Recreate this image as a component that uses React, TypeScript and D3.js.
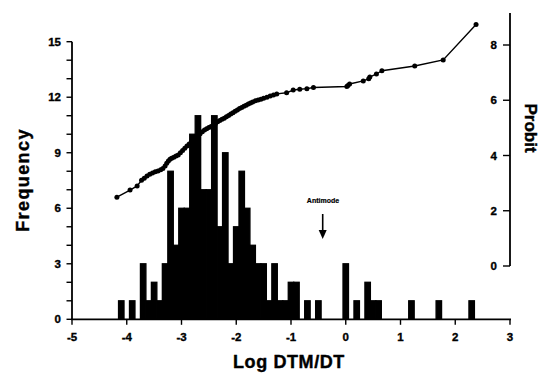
import React from "react";
import * as d3 from "d3";

const binCenters = [-4.1, -3.9, -3.7, -3.6, -3.5, -3.4, -3.3, -3.2, -3.1, -3.0, -2.9, -2.8, -2.7, -2.6, -2.5, -2.4, -2.3, -2.2, -2.1, -2.0, -1.9, -1.8, -1.7, -1.6, -1.5, -1.4, -1.3, -1.2, -1.1, -1.0, -0.9, -0.7, -0.5, 0.0, 0.2, 0.4, 0.5, 0.6, 1.2, 1.7, 2.3];
const binCounts = [1, 1, 3, 1, 2, 1, 3, 8, 4, 6, 6, 10, 11, 7, 7, 11, 5, 9, 3, 5, 8, 6, 4, 3, 3, 1, 3, 1, 1, 2, 2, 1, 1, 3, 1, 2, 1, 1, 1, 1, 1];
const binWidth = 0.1;

const probitX = [-4.18, -3.94, -3.81, -3.73, -3.68, -3.63, -3.58, -3.53, -3.48, -3.43, -3.38, -3.34, -3.30, -3.27, -3.24, -3.21, -3.18, -3.14, -3.10, -3.06, -3.02, -2.98, -2.94, -2.90, -2.86, -2.82, -2.78, -2.74, -2.70, -2.66, -2.62, -2.58, -2.54, -2.50, -2.46, -2.42, -2.38, -2.34, -2.30, -2.26, -2.22, -2.18, -2.14, -2.10, -2.06, -2.02, -1.98, -1.94, -1.90, -1.86, -1.82, -1.78, -1.74, -1.70, -1.65, -1.60, -1.55, -1.50, -1.44, -1.38, -1.32, -1.26, -1.08, -0.96, -0.84, -0.71, -0.59, 0.02, 0.04, 0.07, 0.32, 0.42, 0.44, 0.56, 0.66, 1.26, 1.78, 2.38];
const probitY = [2.49, 2.75, 2.90, 3.10, 3.18, 3.26, 3.32, 3.37, 3.41, 3.44, 3.48, 3.53, 3.62, 3.72, 3.80, 3.86, 3.90, 3.94, 3.98, 4.02, 4.10, 4.18, 4.26, 4.34, 4.42, 4.49, 4.56, 4.63, 4.71, 4.79, 4.86, 4.92, 4.97, 5.01, 5.05, 5.10, 5.16, 5.22, 5.27, 5.31, 5.35, 5.40, 5.45, 5.50, 5.55, 5.60, 5.65, 5.70, 5.74, 5.78, 5.82, 5.86, 5.90, 5.94, 5.98, 6.01, 6.04, 6.07, 6.11, 6.15, 6.19, 6.23, 6.27, 6.37, 6.40, 6.42, 6.46, 6.50, 6.53, 6.59, 6.70, 6.78, 6.84, 6.95, 7.07, 7.24, 7.46, 8.74];

const xTicks = [-5, -4, -3, -2, -1, 0, 1, 2, 3];
const freqTicks = [0, 3, 6, 9, 12, 15];
const freqMinorTicks = d3.range(0, 16, 1);
const probitTicks = [0, 2, 4, 6, 8];

const FONT = "'Liberation Sans', Arial, Helvetica, sans-serif";

export default function App() {
  const x = d3.scaleLinear().domain([-5, 3]).range([72, 510]);
  const yF = d3.scaleLinear().domain([0, 15]).range([319.3, 41.7]);
  const yP = d3.scaleLinear().domain([0, 8]).range([266, 45]);
  const line = d3
    .line<number>()
    .x((_, i) => x(probitX[i]))
    .y((_, i) => yP(probitY[i]));

  const tickText = { fontSize: 11.5, fontWeight: "bold" as const, stroke: "#000", strokeWidth: 0.35 };

  return (
    <svg
      width={548}
      height={378}
      style={{ position: "absolute", left: 0, top: 0, background: "#fff" }}
      fontFamily={FONT}
    >
      <rect x={0} y={0} width={548} height={378} fill="#fff" />
      {/* bars */}
      {binCenters.map((c, i) => (
        <rect
          key={i}
          x={x(c - binWidth / 2)}
          y={yF(binCounts[i])}
          width={x(c + binWidth / 2) - x(c - binWidth / 2)}
          height={yF(0) - yF(binCounts[i])}
          fill="#000"
          stroke="#000"
          strokeWidth={1.3}
        />
      ))}
      {/* probit line */}
      <path d={line(probitX) || ""} fill="none" stroke="#000" strokeWidth={1.4} />
      {probitX.map((v, i) => (
        <circle key={i} cx={x(v)} cy={yP(probitY[i])} r={2.5} fill="#000" />
      ))}
      {/* left axis */}
      <line x1={72} x2={72} y1={yF(15)} y2={yF(0)} stroke="#000" strokeWidth={1.8} />
      {freqMinorTicks.map((t) => (
        <line key={t} x1={66.5} x2={72} y1={yF(t)} y2={yF(t)} stroke="#000" strokeWidth={1.4} />
      ))}
      {freqTicks.map((t) => (
        <text key={t} x={61} y={yF(t)} dy="0.36em" textAnchor="end" {...tickText}>
          {t}
        </text>
      ))}
      {/* bottom axis */}
      <line x1={71} x2={511} y1={yF(0)} y2={yF(0)} stroke="#000" strokeWidth={1.8} />
      {xTicks.map((t) => (
        <g key={t}>
          <line x1={x(t)} x2={x(t)} y1={yF(0)} y2={yF(0) + 5.5} stroke="#000" strokeWidth={1.4} />
          <text x={x(t)} y={341} textAnchor="middle" {...tickText}>
            {t}
          </text>
        </g>
      ))}
      {/* right axis */}
      <line x1={510} x2={510} y1={13} y2={yP(0)} stroke="#000" strokeWidth={1.8} />
      {probitTicks.map((t) => (
        <g key={t}>
          <line x1={503} x2={510} y1={yP(t)} y2={yP(t)} stroke="#000" strokeWidth={1.4} />
          <text x={497} y={yP(t)} dy="0.36em" textAnchor="end" {...tickText}>
            {t}
          </text>
        </g>
      ))}
      {/* antimode annotation */}
      <text x={323} y={203} textAnchor="middle" fontSize={7} fontWeight="bold" stroke="#000" strokeWidth={0.2}>
        Antimode
      </text>
      <line x1={322.7} x2={322.7} y1={214} y2={232} stroke="#000" strokeWidth={1.6} />
      <path d="M318.7,230 L326.7,230 L322.7,239 Z" fill="#000" />
      {/* axis titles */}
      <text
        x={289}
        y={368}
        textAnchor="middle"
        fontSize={18}
        fontWeight="bold"
        letterSpacing={0.6}
        stroke="#000"
        strokeWidth={0.4}
      >
        Log DTM/DT
      </text>
      <text
        transform="translate(29,180) rotate(-90)"
        textAnchor="middle"
        fontSize={18}
        fontWeight="bold"
        letterSpacing={1.4}
        stroke="#000"
        strokeWidth={0.4}
      >
        Frequency
      </text>
      <text
        transform="translate(525,128) rotate(90)"
        textAnchor="middle"
        fontSize={17}
        fontWeight="bold"
        stroke="#000"
        strokeWidth={0.4}
      >
        Probit
      </text>
    </svg>
  );
}
